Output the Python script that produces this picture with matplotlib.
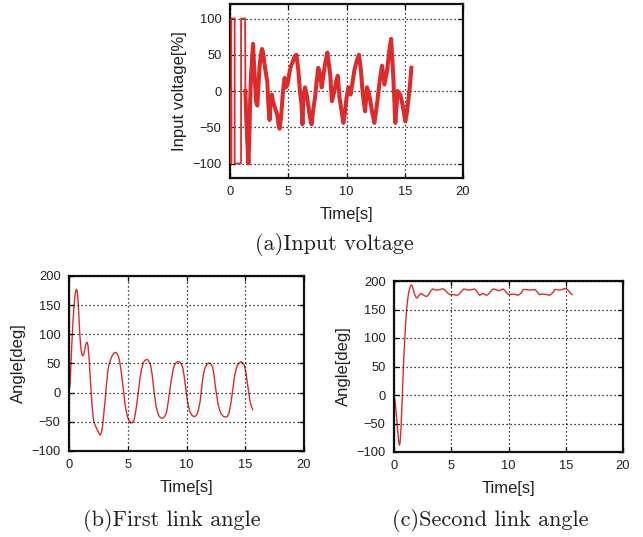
import matplotlib
matplotlib.use("Agg")
import matplotlib.pyplot as plt

# ---- (a) input voltage [%] ----
volt_t = [0.00, 0.11, 0.11, 0.11, 0.40, 0.40, 0.95, 0.95, 1.30, 1.32,
          1.40, 1.50, 1.58, 1.65, 1.72, 1.80, 1.90, 1.98, 2.05, 2.15, 2.25, 2.35,
          2.45, 2.55, 2.65, 2.75, 2.85, 2.97, 3.08, 3.20, 3.30, 3.40, 3.50, 3.60,
          3.70, 3.80, 3.95, 4.06, 4.15, 4.26, 4.40, 4.55, 4.69, 4.80, 4.95, 5.12,
          5.25, 5.40, 5.55, 5.70, 5.87, 6.00, 6.15, 6.22, 6.30, 6.44, 6.58, 6.72,
          6.85, 7.00, 7.15, 7.30, 7.45, 7.58, 7.70, 7.87, 8.00, 8.16, 8.36, 8.50,
          8.60, 8.75, 8.96, 9.10, 9.25, 9.40, 9.55, 9.73, 9.85, 10.00, 10.16,
          10.35, 10.50, 10.67, 10.85, 11.07, 11.24, 11.35, 11.47, 11.60, 11.76,
          11.95, 12.19, 12.39, 12.62, 12.85, 13.05, 13.25, 13.48, 13.71, 13.83,
          13.99, 14.10, 14.19, 14.39, 14.62, 14.80, 15.05, 15.20, 15.43, 15.57]
volt_v = [0, 0, -100, 100, 100, -100, -100, 100, 100, 0,
          -40, -75, -100, -70, -20, 20, 45, 65, 40, 10, -15, -20,
          10, 36, 50, 58, 52, 36, 25, 13, -20, -40, -10, -5,
          -15, -20, -28, -33, -45, -52, -33, 0, 18, 5, 10, 27,
          35, 41, 48, 50, 28, 0, -20, -46, -10, 5, -5, -20,
          -35, -46, -25, -9, 15, 32, 25, 5, 20, 37, 53, 35,
          23, -14, 0, 12, 21, -9, -25, -44, -32, -10, 5,
          -5, 10, 28, 40, 50, 28, 5, -14, -28, 5,
          -5, -28, -44, -18, 14, 35, 9, 28, 60, 72,
          28, -10, -44, 0, -5, -18, -42, -28, 5, 32]
SWITCHING_POINTS = 10  # leading bang-bang section of the voltage record

# ---- (b) first link angle [deg] ----
link1_t = [0.00, 0.085, 0.17, 0.26, 0.35, 0.43, 0.52, 0.60, 0.65, 0.71, 0.78, 0.85,
           0.92, 0.99, 1.07, 1.16, 1.25, 1.33, 1.42, 1.50, 1.56, 1.62, 1.70, 1.78,
           1.87, 1.96, 2.06, 2.16, 2.30, 2.44, 2.56, 2.67, 2.76, 2.86, 2.97, 3.09,
           3.19, 3.29, 3.40, 3.52, 3.62, 3.72, 3.86, 4.00, 4.12, 4.23, 4.34, 4.45,
           4.54, 4.62, 4.70, 4.79, 4.89, 4.99, 5.13, 5.28, 5.42, 5.56, 5.68, 5.79,
           5.92, 6.04, 6.18, 6.33, 6.50, 6.67, 6.82, 6.95, 7.07, 7.18, 7.29, 7.40,
           7.53, 7.66, 7.80, 7.97, 8.14, 8.31, 8.45, 8.60, 8.74, 8.88, 8.99, 9.10,
           9.25, 9.39, 9.53, 9.67, 9.79, 9.90, 10.00, 10.10, 10.20, 10.30, 10.47,
           10.64, 10.78, 10.92, 11.03, 11.15, 11.27, 11.38, 11.49, 11.60, 11.76,
           11.92, 12.08, 12.23, 12.34, 12.45, 12.57, 12.68, 12.81, 12.94, 13.15,
           13.36, 13.50, 13.64, 13.76, 13.87, 13.98, 14.10, 14.22, 14.33, 14.48,
           14.64, 14.78, 14.92, 15.05, 15.17, 15.29, 15.40, 15.52, 15.63]
link1_v = [5, 12, 50, 92, 125, 149, 168, 176, 177, 172, 155, 128,
           100, 81, 68, 63, 66, 73, 82, 86, 86, 80, 62, 35,
           6, -22, -43, -53, -59, -65, -70, -73, -68, -57, -35, -10,
           14, 35, 48, 55, 61, 65, 68.5, 69, 66, 61, 50, 35,
           20, 7, -8, -22, -34, -42, -49, -52, -51, -45, -32, -16,
           5, 24, 41, 52, 56, 57, 53, 47, 32, 12, -6, -22,
           -33, -40, -43, -44, -41, -33, -15, 7, 26, 41, 48, 51,
           53, 53, 50, 44, 30, 12, -3, -16, -26, -33, -39,
           -41, -40, -36, -28, -16, 4, 24, 36, 44, 49,
           51, 49, 44, 30, 12, -4, -19, -29, -36, -41,
           -42, -40, -33, -20, -5, 12, 29, 40, 47, 51,
           53, 51, 47, 35, 18, 1, -14, -23, -29]

# ---- (c) second link angle [deg] ----
link2_t = [0.00, 0.10, 0.20, 0.30, 0.40, 0.47, 0.53, 0.60, 0.67, 0.73, 0.79, 0.85,
           0.91, 0.97, 1.04, 1.10, 1.18, 1.25, 1.33, 1.40, 1.47, 1.54, 1.60, 1.67,
           1.75, 1.85, 1.95, 2.03, 2.15, 2.33, 2.45, 2.60, 2.79, 2.95, 3.10, 3.25,
           3.37, 3.55, 3.70, 3.85, 4.00, 4.15, 4.30, 4.45, 4.60, 4.75, 4.88, 5.05,
           5.20, 5.35, 5.47, 5.65, 5.80, 5.95, 6.10, 6.30, 6.55, 6.80, 7.06, 7.20,
           7.30, 7.40, 7.50, 7.65, 7.80, 7.95, 8.08, 8.25, 8.40, 8.55, 8.66, 8.90,
           9.10, 9.30, 9.53, 9.70, 9.80, 9.95, 10.10, 10.30, 10.45, 10.65, 10.84,
           11.05, 11.15, 11.28, 11.55, 11.80, 12.05, 12.30, 12.40, 12.50, 12.60,
           12.73, 12.90, 13.10, 13.35, 13.60, 13.80, 13.92, 14.04, 14.25, 14.45,
           14.70, 14.90, 15.05, 15.20, 15.35, 15.55]
link2_v = [0, -12, -32, -58, -80, -88, -84, -62, -32, 0, 32, 62,
           88, 110, 132, 150, 165, 176, 184, 189, 192, 193, 191, 186,
           180, 174, 171, 170, 174, 178, 177, 175, 173, 174, 179, 184,
           186, 185, 184, 184.5, 185, 186, 186, 184, 181, 178, 176, 176.5,
           176, 175.5, 175, 176, 180, 183, 186, 185, 184, 185, 186, 183,
           180, 177, 175, 177, 178, 176, 175, 177, 181, 184, 186, 185,
           183, 184, 186, 183, 180, 177, 176, 177, 177, 176, 175,
           178, 180, 185, 185, 184, 184.5, 185, 183, 181, 178,
           176, 177, 177, 176, 175, 178, 181, 185, 185, 184,
           185, 187, 186, 184, 180, 176]

time_ticks = [0, 5, 10, 15, 20]
volt_ticks = [-100, -50, 0, 50, 100]
angle_ticks = [-100, -50, 0, 50, 100, 150, 200]

captions = ["(a)Input voltage", "(b)First link angle", "(c)Second link angle"]

RED = "#dd2a2a"
TEXT = "#231f20"
W, H = 643, 537

plt.rcParams["font.family"] = ["Liberation Sans", "DejaVu Sans"]

fig = plt.figure(figsize=(W / 100, H / 100), dpi=100)
fig.patch.set_facecolor("white")


def px_axes(left, top, right, bottom):
    return fig.add_axes([left / W, 1 - bottom / H, (right - left) / W, (bottom - top) / H])


def style(ax, yticks, ylim, ylabel):
    ax.set_xlim(0, 20)
    ax.set_ylim(*ylim)
    ax.set_xticks(time_ticks)
    ax.set_yticks(yticks)
    ax.grid(True, color="black", linestyle=(0, (1, 2.2)), linewidth=0.9)
    ax.set_axisbelow(False)
    for s in ax.spines.values():
        s.set_linewidth(1.6)
        s.set_color("#111111")
    ax.tick_params(direction="in", length=3.5, width=0.9, top=True, right=True,
                   labelsize=9.3, labelcolor=TEXT, pad=6)
    ax.set_xlabel("Time[s]", fontsize=12, color=TEXT, labelpad=6)
    ax.set_ylabel(ylabel, fontsize=12, color=TEXT, labelpad=4)


ax_a = px_axes(230, 4, 463, 178)
n = SWITCHING_POINTS
ax_a.plot(volt_t[:n], volt_v[:n], color=RED, linewidth=1.3, zorder=3)
ax_a.plot(volt_t[n - 1:], volt_v[n - 1:], color=RED, linewidth=2.9, zorder=3,
          solid_joinstyle="round")
style(ax_a, volt_ticks, (-120, 120), "Input voltage[%]")

ax_b = px_axes(69, 276, 304, 451)
ax_b.plot(link1_t, link1_v, color=RED, linewidth=1.0)
style(ax_b, angle_ticks, (-100, 200), "Angle[deg]")

ax_c = px_axes(394, 281, 623, 452)
ax_c.plot(link2_t, link2_v, color=RED, linewidth=1.0)
style(ax_c, angle_ticks, (-100, 200), "Angle[deg]")

cap_kw = dict(fontsize=16, fontfamily="cmr10", color=TEXT, ha="center", va="center")
fig.text(334 / W, 1 - 244 / H, captions[0], **cap_kw)
fig.text(172 / W, 1 - 520 / H, captions[1], **cap_kw)
fig.text(490 / W, 1 - 520 / H, captions[2], **cap_kw)

fig.savefig("out.png", dpi=100)
